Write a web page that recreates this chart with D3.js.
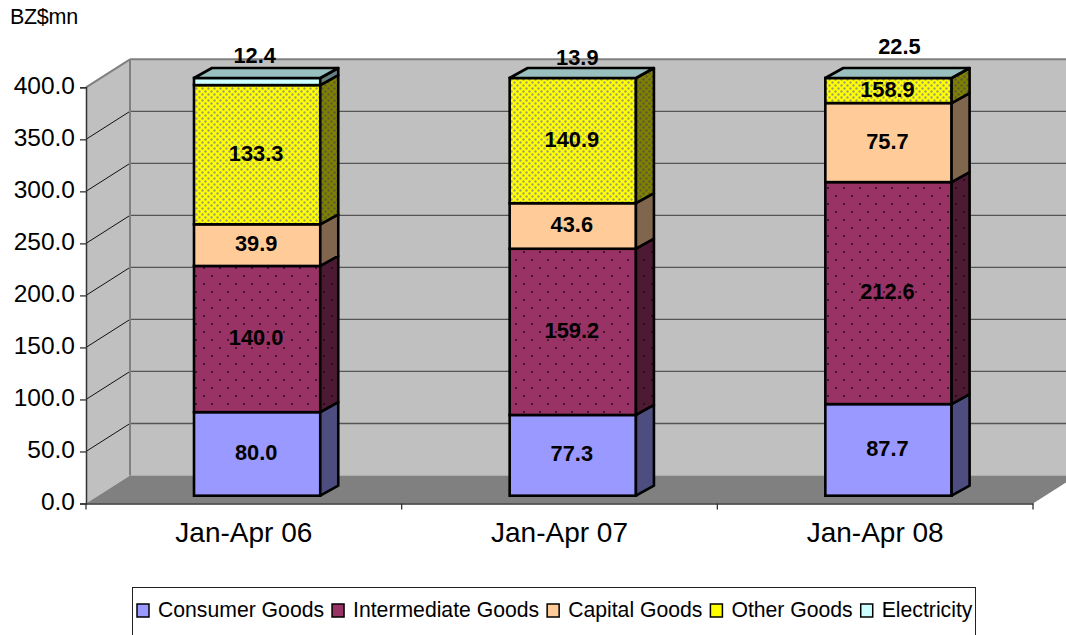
<!DOCTYPE html>
<html>
<head>
<meta charset="utf-8">
<script src="https://cdn.jsdelivr.net/npm/d3@7"></script>
<style>
  html, body { margin: 0; padding: 0; background: #fff; overflow: hidden; }
  svg { display: block; }
  text { font-family: "Liberation Sans", Arial, sans-serif; fill: #000; }
</style>
</head>
<body>
<svg id="chart"></svg>
<script>
// Chart data
const categories = ["Jan-Apr 06", "Jan-Apr 07", "Jan-Apr 08"];
const seriesNames = ["Consumer Goods", "Intermediate Goods", "Capital Goods", "Other Goods", "Electricity"];
const consumerGoods = [80.0, 77.3, 87.7];
const intermediateGoods = [140.0, 159.2, 212.6];
const capitalGoods = [39.9, 43.6, 75.7];
const otherGoods = [133.3, 140.9, 158.9];
const electricity = [12.4, 13.9, 22.5];
const yTicks = [0, 50, 100, 150, 200, 250, 300, 350, 400];

// Set up dimensions
const width = 1066;
const height = 635;
const plot = { left: 86, right: 1033, top: 87.3, bottom: 503.5 };
const wall = { dx: 44, dy: -28 };      // depth of the back wall
const barPlane = { dx: 13.3, top: 78, bottom: 495.7 }; // bars stand inside the floor
const barDepth = { dx: 18, dy: -10 };

// Electricity labels sit above the box, the box is cut at the axis max
const topLabelGap = [23, 21, 32];
const topLabelShift = [-2.5, 4.5, 11];

const fills = ["#9999ff", "url(#dotsMaroon)", "#ffcc99", "url(#dotsYellow)", "#ccffff"];
const sideFills = ["#4d4d80", "url(#dotsMaroonSide)", "#80664d", "url(#dotsYellowSide)", "#668080"];
const legendFills = ["#9999ff", "#993366", "#ffcc99", "#ffff00", "#ccffff"];

const svg = d3.select("#chart").attr("width", width).attr("height", height);

// Dot patterns for the two textured series
const defs = svg.append("defs");
function addDots(id, bg, dot, w, h, r) {
    const p = defs.append("pattern").attr("id", id)
        .attr("patternUnits", "userSpaceOnUse")
        .attr("width", w).attr("height", h);
    p.append("rect").attr("width", w).attr("height", h).attr("fill", bg);
    p.append("circle").attr("cx", w / 4).attr("cy", h / 4).attr("r", r).attr("fill", dot);
    p.append("circle").attr("cx", 3 * w / 4).attr("cy", 3 * h / 4).attr("r", r).attr("fill", dot);
}
addDots("dotsMaroon", "#993366", "#2a1020", 16, 16, 1);
addDots("dotsMaroonSide", "#4d1a33", "#1c0812", 16, 16, 1);
addDots("dotsYellow", "#ffff00", "#a0a070", 6, 6, 1.2);
addDots("dotsYellowSide", "#808000", "#5a5a38", 6, 6, 1.2);

// Scales
const x = d3.scaleBand()
    .domain(categories)
    .range([plot.left, plot.right])
    .paddingInner(0.6)
    .paddingOuter(0.3);
const y = d3.scaleLinear()
    .domain([0, 400])
    .range([plot.bottom, plot.top])
    .clamp(true);
// same axis on the plane of the boxes
const sy = d3.scaleLinear()
    .domain([0, 400])
    .range([barPlane.bottom, barPlane.top])
    .clamp(true);

const pts = a => a.map(p => p.join(",")).join(" ");

// Walls and floor
svg.append("polygon")
    .attr("points", pts([
        [plot.left, y(0)], [plot.left + wall.dx, y(0) + wall.dy],
        [plot.left + wall.dx, y(400) + wall.dy], [plot.left, y(400)]
    ]))
    .attr("fill", "#c0c0c0");
svg.append("rect")
    .attr("x", plot.left + wall.dx).attr("y", y(400) + wall.dy)
    .attr("width", plot.right - plot.left)
    .attr("height", y(0) - y(400))
    .attr("fill", "#c0c0c0");
svg.append("polygon")
    .attr("points", pts([
        [plot.left, y(0)], [plot.left + wall.dx, y(0) + wall.dy],
        [plot.right + wall.dx, y(0) + wall.dy], [plot.right, y(0)]
    ]))
    .attr("fill", "#808080");

// Gridlines: back wall in grey, side wall in black
yTicks.slice(1).forEach(t => {
    svg.append("line")
        .attr("x1", plot.left + wall.dx).attr("x2", plot.right + wall.dx)
        .attr("y1", y(t) + wall.dy).attr("y2", y(t) + wall.dy)
        .attr("stroke", t === 400 ? "#808080" : "#555")
        .attr("stroke-width", t === 400 ? 2 : 1.3);
    svg.append("line")
        .attr("x1", plot.left).attr("x2", plot.left + wall.dx)
        .attr("y1", y(t)).attr("y2", y(t) + wall.dy)
        .attr("stroke", t === 400 ? "#808080" : "#111")
        .attr("stroke-width", t === 400 ? 2 : 1);
});
svg.append("line")
    .attr("x1", plot.left + wall.dx).attr("x2", plot.left + wall.dx)
    .attr("y1", y(400) + wall.dy).attr("y2", y(0) + wall.dy)
    .attr("stroke", "#808080").attr("stroke-width", 2);

// Stack the series
const rows = categories.map((c, i) => ({
    category: c,
    s0: consumerGoods[i], s1: intermediateGoods[i], s2: capitalGoods[i],
    s3: otherGoods[i], s4: electricity[i]
}));
const stacked = d3.stack().keys(["s0", "s1", "s2", "s3", "s4"])(rows);

// Draw the boxes
const sx = d => x(d.data.category) + barPlane.dx;
const bw = x.bandwidth();
const outline = { stroke: "#000", width: 2.6 };

stacked.forEach((layer, k) => {
    const g = svg.append("g");
    const visible = layer.filter(d => d[0] < 400);

    g.selectAll("rect").data(visible).enter().append("rect")
        .attr("x", sx)
        .attr("y", d => sy(d[1]))
        .attr("width", bw)
        .attr("height", d => sy(d[0]) - sy(d[1]))
        .attr("fill", fills[k])
        .attr("stroke", outline.stroke)
        .attr("stroke-width", outline.width);

    g.selectAll("polygon").data(visible).enter().append("polygon")
        .attr("points", d => {
            const r = sx(d) + bw;
            return pts([
                [r, sy(d[0])], [r + barDepth.dx, sy(d[0]) + barDepth.dy],
                [r + barDepth.dx, sy(d[1]) + barDepth.dy], [r, sy(d[1])]
            ]);
        })
        .attr("fill", sideFills[k])
        .attr("stroke", outline.stroke)
        .attr("stroke-width", outline.width)
        .attr("stroke-linejoin", "round");
});

// Top cap of every box
svg.append("g").selectAll("polygon").data(rows).enter().append("polygon")
    .attr("points", d => {
        const l = x(d.category) + barPlane.dx, t = sy(400);
        return pts([
            [l, t], [l + barDepth.dx, t + barDepth.dy],
            [l + bw + barDepth.dx, t + barDepth.dy], [l + bw, t]
        ]);
    })
    .attr("fill", "#99bfbf")
    .attr("stroke", outline.stroke)
    .attr("stroke-width", outline.width)
    .attr("stroke-linejoin", "round");

// Value labels
stacked.forEach((layer, k) => {
    svg.append("g").selectAll("text").data(layer).enter().append("text")
        .attr("x", (d, i) => sx(d) + bw / 2 + (k === 4 ? topLabelShift[i] : -1))
        .attr("y", (d, i) => {
            if (k === 4) return sy(400) - topLabelGap[i];
            return (sy(d[0]) + sy(d[1])) / 2 - 1.5;
        })
        .attr("text-anchor", "middle")
        .attr("dominant-baseline", "central")
        .attr("font-size", 21.8)
        .attr("font-weight", "bold")
        .text(d => (d[1] - d[0]).toFixed(1));
});

// Axes
const yAxis = svg.append("g")
    .attr("transform", `translate(${plot.left}, 0)`)
    .call(d3.axisLeft(y).tickValues(yTicks).tickFormat(d3.format(".1f")).tickSize(6).tickPadding(5));
yAxis.selectAll("text").attr("font-size", 24.5).attr("dy", "0.25em");
yAxis.attr("font-family", null);

const xAxis = svg.append("g")
    .attr("transform", `translate(0, ${plot.bottom})`)
    .call(d3.axisBottom(x.copy().paddingInner(0).paddingOuter(0)).tickSize(0).tickPadding(19));
xAxis.selectAll("text").attr("font-size", 28);
xAxis.attr("font-family", null);
xAxis.select(".domain").attr("stroke", "#333").attr("stroke-width", 1.5);
yAxis.select(".domain").attr("stroke", "#333").attr("stroke-width", 1.5);
yAxis.selectAll("line").attr("stroke", "#333").attr("stroke-width", 1.3);

// Ticks between the categories
xAxis.selectAll(".sep").data(d3.range(categories.length + 1)).enter().append("line")
    .attr("x1", i => plot.left + i * (plot.right - plot.left) / categories.length)
    .attr("x2", i => plot.left + i * (plot.right - plot.left) / categories.length)
    .attr("y1", 0).attr("y2", 6)
    .attr("stroke", "#333").attr("stroke-width", 1.3);

// Unit label
svg.append("text").attr("x", 10).attr("y", 24).attr("font-size", 21.5).attr("letter-spacing", -0.3).text("BZ$mn");

// Legend
svg.append("rect")
    .attr("x", 132.5).attr("y", 587.5).attr("width", 843).attr("height", 60)
    .attr("fill", "#fff").attr("stroke", "#222").attr("stroke-width", 1);
let legendX = 137;
seriesNames.forEach((name, i) => {
    svg.append("rect")
        .attr("x", legendX).attr("y", 604).attr("width", 12).attr("height", 13)
        .attr("fill", legendFills[i]).attr("stroke", "#000").attr("stroke-width", 1.5);
    const label = svg.append("text")
        .attr("x", legendX + 21).attr("y", 617)
        .attr("font-size", 21.2)
        .text(name);
    legendX += 21 + label.node().getComputedTextLength() + 8;
});
</script>
</body>
</html>
